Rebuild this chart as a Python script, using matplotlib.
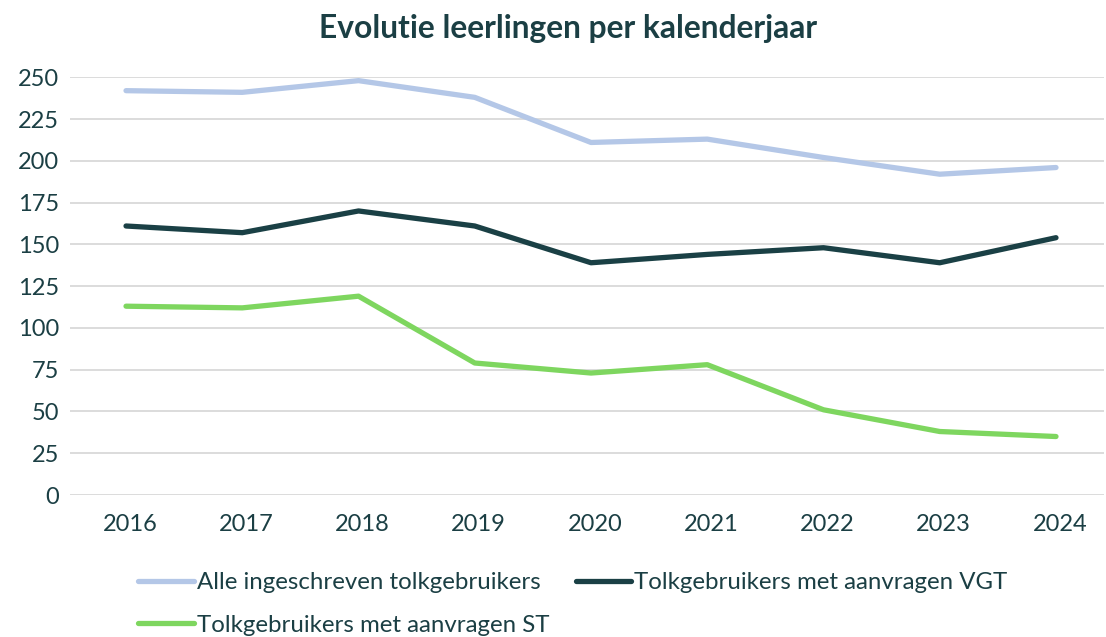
import matplotlib
matplotlib.use("Agg")
import matplotlib.pyplot as plt
from matplotlib.lines import Line2D
from matplotlib.transforms import ScaledTranslation

years = ["2016", "2017", "2018", "2019", "2020", "2021", "2022", "2023", "2024"]
alle = [242, 241, 248, 238, 211, 213, 202, 192, 196]
vgt = [161, 157, 170, 161, 139, 144, 148, 139, 154]
st = [113, 112, 119, 79, 73, 78, 51, 38, 35]
series_names = ["Alle ingeschreven tolkgebruikers",
                "Tolkgebruikers met aanvragen VGT",
                "Tolkgebruikers met aanvragen ST"]
yticks = [0, 25, 50, 75, 100, 125, 150, 175, 200, 225, 250]

plt.rcParams['font.family'] = ['Lato', 'DejaVu Sans']
text_col = "#1b3f44"
colors = ["#b4c7e7", "#1a4045", "#7ed65f"]

fig = plt.figure(figsize=(11.06, 6.37), dpi=100)
ax = fig.add_axes([70 / 1106, 1 - 495 / 637, (1104 - 70) / 1106, (495 - 77.3) / 637])

x = list(range(len(years)))
for vals, c, name in zip([alle, vgt, st], colors, series_names):
    ax.plot(x, vals, color=c, lw=3.8, solid_capstyle='round', solid_joinstyle='round',
            label=name, clip_on=False, zorder=3)

ax.set_xlim(-0.482, 8.413)
ax.set_ylim(0, 250)
ax.set_yticks(yticks)
ax.set_xticks(x)
ax.set_xticklabels(years)
ax.grid(axis='y', color='#d9d9d9', lw=1.3)
ax.set_axisbelow(True)
for s in ax.spines.values():
    s.set_visible(False)
ax.tick_params(axis='both', length=0, labelsize=17, colors=text_col)
ax.tick_params(axis='x', pad=14)
ax.tick_params(axis='y', pad=8)
off = ScaledTranslation(4 / 100, 0, fig.dpi_scale_trans)
for lab in ax.get_xticklabels():
    lab.set_transform(lab.get_transform() + off)

fig.text(568 / 1106, 0.955, "Evolutie leerlingen per kalenderjaar", ha='center', va='center',
         fontsize=22.9, fontweight='bold', color=text_col)

handles = [Line2D([], [], color=c, lw=3.8, solid_capstyle='round') for c in colors]
order = [0, 2, 1]
leg = fig.legend([handles[i] for i in order], [series_names[i] for i in order],
                 loc='upper left', bbox_to_anchor=(0.1165, 0.117),
                 ncol=2, frameon=False, fontsize=17.3, handlelength=2.3, handletextpad=0.12,
                 columnspacing=1.1, labelspacing=0.9, borderaxespad=0)
for t in leg.get_texts():
    t.set_color(text_col)

fig.savefig("out.png", dpi=100)
